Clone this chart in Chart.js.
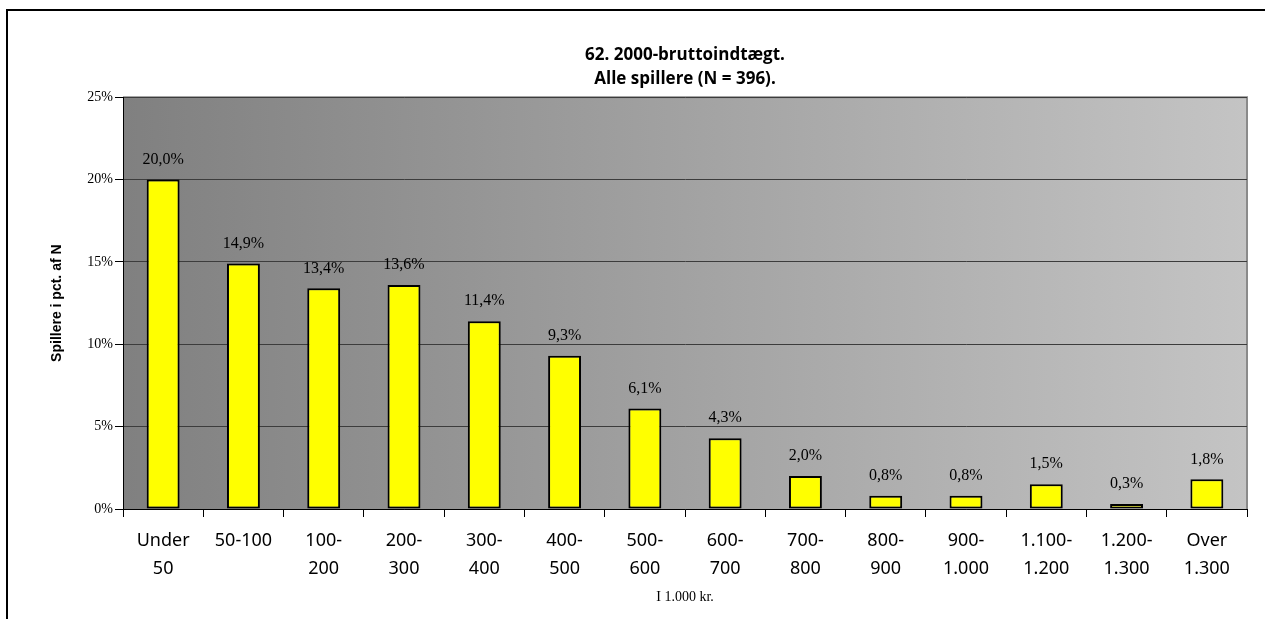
<!DOCTYPE html>
<html>
<head>
<meta charset="utf-8">
<script src="https://cdn.jsdelivr.net/npm/chart.js@4.4.0/dist/chart.umd.min.js"></script>
<style>
  html, body { margin: 0; padding: 0; background: #fff; overflow: hidden; }
</style>
</head>
<body>
<canvas id="c" width="1265" height="619"></canvas>
<script>
// income brackets (1.000 kr.)
var labels = [['Under', '50'], ['50-100'], ['100-', '200'], ['200-', '300'], ['300-', '400'],
    ['400-', '500'], ['500-', '600'], ['600-', '700'], ['700-', '800'], ['800-', '900'],
    ['900-', '1.000'], ['1.100-', '1.200'], ['1.200-', '1.300'], ['Over', '1.300']];
// share of players in percent
var values = [20.0, 14.9, 13.4, 13.6, 11.4, 9.3, 6.1, 4.3, 2.0, 0.8, 0.8, 1.5, 0.3, 1.8];
var yTicks = [0, 5, 10, 15, 20, 25];

// grey gradient behind the bars + frame round the whole picture
var background = {
    id: 'background',
    beforeDraw: function(chart) {
        var ctx = chart.ctx, a = chart.chartArea;
        var g = ctx.createLinearGradient(a.left, 0, a.right, 0);
        g.addColorStop(0, '#808080');
        g.addColorStop(1, '#c4c4c4');
        ctx.save();
        ctx.fillStyle = g;
        ctx.fillRect(a.left, a.top, a.right - a.left, a.bottom - a.top);
        ctx.strokeStyle = '#8a8a8a';
        ctx.lineWidth = 2;
        ctx.beginPath();
        ctx.moveTo(a.left, a.top);
        ctx.lineTo(a.right, a.top);
        ctx.lineTo(a.right, a.bottom);
        ctx.stroke();
        ctx.strokeStyle = '#000';
        ctx.lineWidth = 2;
        ctx.beginPath();
        ctx.moveTo(7, 640);
        ctx.lineTo(7, 10);
        ctx.lineTo(1280, 10);
        ctx.stroke();
        ctx.restore();
    }
};

var valueLabels = {
    id: 'valueLabels',
    afterDatasetsDraw: function(chart) {
        var ctx = chart.ctx;
        var meta = chart.getDatasetMeta(0);
        ctx.save();
        ctx.font = '16px "Liberation Serif"';
        ctx.fillStyle = '#000';
        ctx.textAlign = 'center';
        ctx.textBaseline = 'middle';
        meta.data.forEach(function(bar, i) {
            ctx.fillText(values[i].toFixed(1).replace('.', ',') + '%', bar.x, bar.y - 20);
        });
        ctx.restore();
    }
};

var ctx1 = document.getElementById('c').getContext('2d');
var chart = new Chart(ctx1, {
    type: 'bar',
    data: {
        labels: labels,
        datasets: [{
            data: values,
            backgroundColor: '#ffff00',
            borderColor: '#000',
            borderWidth: 2,
            borderSkipped: false,
            barPercentage: 0.41,
            categoryPercentage: 1
        }]
    },
    options: {
        responsive: false,
        animation: false,
        devicePixelRatio: 1,
        layout: { padding: { left: 45, right: 18, top: 43, bottom: 0 } },
        plugins: {
            legend: { display: false },
            tooltip: { enabled: false },
            title: {
                display: true,
                fullSize: false,
                text: ['62. 2000-bruttoindtægt.', 'Alle spillere (N = 396).'],
                color: '#000',
                font: { family: '"Open Sans"', size: 17, weight: 'bold', lineHeight: 1.42 },
                padding: { top: 0, bottom: 6 }
            }
        },
        scales: {
            x: {
                grid: { offset: true, drawOnChartArea: false, tickLength: 8, tickColor: '#000', color: '#000' },
                border: { color: '#000', width: 1 },
                ticks: {
                    color: '#000', maxRotation: 0, autoSkip: false, padding: 10,
                    font: { family: '"Noto Sans"', size: 18, lineHeight: 1.55 }
                },
                title: {
                    display: true, text: 'I 1.000 kr.', color: '#000',
                    font: { family: '"Liberation Serif"', size: 14 },
                    padding: { top: 4, bottom: 13 }
                },
                afterFit: function(scale) { scale.height = 110; }
            },
            y: {
                min: 0, max: 25,
                afterBuildTicks: function(scale) {
                    scale.ticks = yTicks.map(function(v) { return { value: v }; });
                },
                grid: { color: '#3c3c3c', tickColor: '#000', tickLength: 8, lineWidth: 1 },
                border: { color: '#000', width: 1 },
                ticks: {
                    color: '#000', padding: 2,
                    font: { family: '"Liberation Serif"', size: 14 },
                    callback: function(v) { return v + '%'; }
                },
                title: {
                    display: true, text: 'Spillere i pct. af N', color: '#000',
                    font: { family: '"Liberation Sans Narrow", "Liberation Sans"', size: 14, weight: 'bold' },
                    padding: { top: 4, bottom: 0 }
                },
                afterFit: function(scale) { scale.width = 78; }
            }
        }
    },
    plugins: [background, valueLabels]
});
</script>
</body>
</html>
